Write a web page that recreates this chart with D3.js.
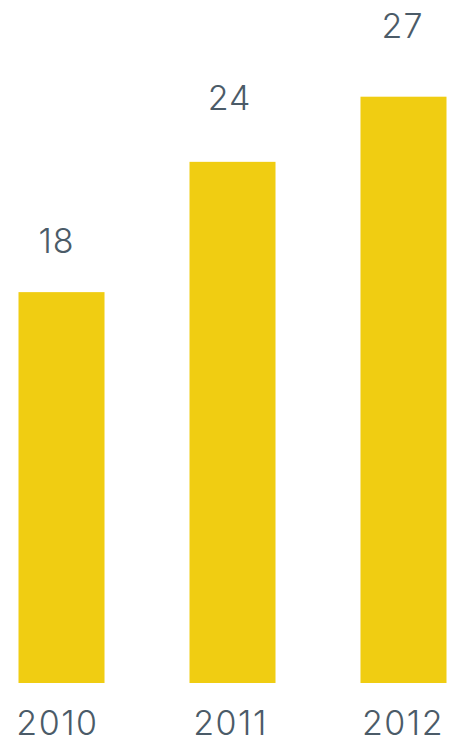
<!DOCTYPE html>
<html>
<head>
<meta charset="utf-8">
<script src="https://cdn.jsdelivr.net/npm/d3@7"></script>
<style>
  html, body { margin: 0; padding: 0; background: #fff; }
  svg { display: block; }
</style>
</head>
<body>
<div id="chart"></div>
<script>
const years = ["2010", "2011", "2012"];
const values = [18, 24, 27];

const width = 449, height = 741;
const baseY = 683;

const svg = d3.select("#chart")
  .append("svg")
    .attr("width", width)
    .attr("height", height);

// bars
const x = d3.scaleBand()
  .domain(years)
  .range([18.5, 446.5])
  .paddingInner(0.497)
  .paddingOuter(0);

const y = d3.scaleLinear()
  .domain([0, 27])
  .range([baseY, 96.7]);

// labels sit on their own scales (they are not quite centred on the bars)
const labelX = d3.scalePoint()
  .domain(years)
  .range([56, 402]);

const labelY = d3.scaleLinear()
  .domain([0, 27])
  .range([baseY, 38]);

svg.append("g")
  .selectAll("rect")
  .data(values)
  .enter()
  .append("rect")
    .attr("x", (d, i) => x(years[i]))
    .attr("y", d => y(d))
    .attr("width", x.bandwidth())
    .attr("height", d => baseY - y(d))
    .style("fill", "#F0CD12");

const font = "Inter, 'Open Sans', sans-serif";
const textColor = "#4b5b68";

svg.append("g")
  .selectAll("text")
  .data(values)
  .enter()
  .append("text")
    .attr("x", (d, i) => labelX(years[i]) + 0.5)
    .attr("y", d => labelY(d))
    .attr("text-anchor", "middle")
    .style("font-family", font)
    .style("font-weight", 300)
    .style("font-size", "34px")
    .style("letter-spacing", "1px")
    .style("fill", textColor)
    .text(d => d);

// year labels along the bottom
svg.append("g")
  .selectAll("text")
  .data(years)
  .enter()
  .append("text")
    .attr("x", d => labelX(d) + (d === "2012" ? 1 : 1.5))
    .attr("y", 734.5)
    .attr("text-anchor", "middle")
    .style("font-family", font)
    .style("font-weight", 300)
    .style("font-size", "34px")
    .style("letter-spacing", "1.5px")
    .style("fill", textColor)
    .text(d => d);
</script>
</body>
</html>
